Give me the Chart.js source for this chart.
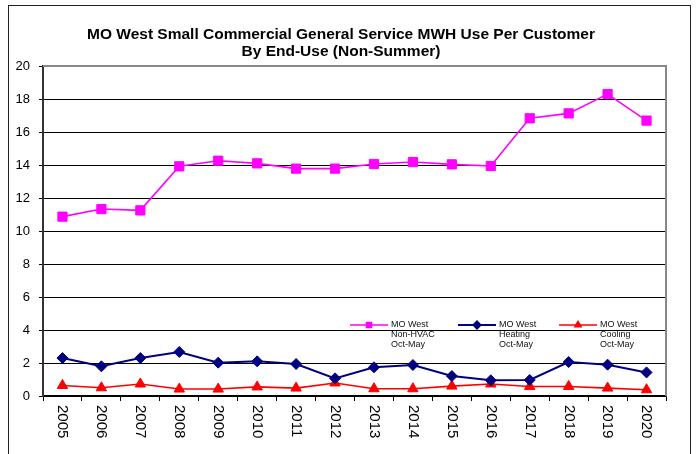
<!DOCTYPE html>
<html>
<head>
<meta charset="utf-8">
<script src="https://cdn.jsdelivr.net/npm/chart.js@4.4.1/dist/chart.umd.min.js"></script>
<style>
  html, body { margin: 0; padding: 0; background: #fff; }
</style>
</head>
<body>
<canvas id="chartId" width="698" height="454"></canvas>
<script>
// values
const years = ["2005", "2006", "2007", "2008", "2009", "2010", "2011", "2012",
               "2013", "2014", "2015", "2016", "2017", "2018", "2019", "2020"];
const nonHvac = [10.87, 11.33, 11.25, 13.92, 14.26, 14.1, 13.78, 13.78,
                 14.06, 14.18, 14.04, 13.94, 16.83, 17.13, 18.3, 16.69];
const heating = [2.3, 1.8, 2.3, 2.67, 2.02, 2.1, 1.94, 1.07,
                 1.74, 1.88, 1.21, 0.95, 0.97, 2.06, 1.9, 1.43];
const cooling = [0.64, 0.5, 0.73, 0.42, 0.42, 0.55, 0.48, 0.79,
                 0.44, 0.44, 0.6, 0.73, 0.58, 0.58, 0.48, 0.38];
const seriesNames = [
    ["MO West", "Non-HVAC", "Oct-May"],
    ["MO West", "Heating", "Oct-May"],
    ["MO West", "Cooling", "Oct-May"]
];
const yMin = 0, yMax = 20, yStep = 2;
const titleLines = ["MO West Small Commercial General Service MWH Use Per Customer",
                    "By End-Use (Non-Summer)"];

const fontFamily = "'Liberation Sans', Arial, Helvetica, sans-serif";

// outer frame, white background, grey plot border
const framePlugin = {
    id: "frame",
    beforeDraw(chart) {
        const ctx = chart.ctx;
        ctx.save();
        ctx.fillStyle = "#fff";
        ctx.fillRect(0, 0, chart.width, chart.height);
        ctx.strokeStyle = "#222";
        ctx.lineWidth = 1;
        ctx.strokeRect(8.5, 5.5, 682, 470);
        ctx.restore();
    },
    beforeDatasetsDraw(chart) {
        const ctx = chart.ctx;
        const a = chart.chartArea;
        ctx.save();
        ctx.strokeStyle = "#888";
        ctx.lineWidth = 2;
        ctx.beginPath();
        ctx.moveTo(a.left, a.top);
        ctx.lineTo(a.right, a.top);
        ctx.lineTo(a.right, a.bottom);
        ctx.stroke();
        ctx.restore();
    }
};

// x labels turned to read top to bottom
const xLabelPlugin = {
    id: "xLabels",
    afterDraw(chart) {
        const ctx = chart.ctx;
        const xs = chart.scales.x;
        ctx.save();
        ctx.fillStyle = "#000";
        ctx.font = "15px " + fontFamily;
        ctx.textAlign = "left";
        ctx.textBaseline = "middle";
        years.forEach((y, i) => {
            ctx.save();
            ctx.translate(xs.getPixelForTick(i), xs.top + 9);
            ctx.rotate(Math.PI / 2);
            ctx.fillText(y, 0, 0);
            ctx.restore();
        });
        ctx.restore();
    }
};

// legend inside the plot, three lines of text per series
const legendPlugin = {
    id: "innerLegend",
    afterDatasetsDraw(chart) {
        const ctx = chart.ctx;
        const starts = [350, 458, 559];
        const top = 325;
        ctx.save();
        chart.data.datasets.forEach((ds, i) => {
            const x0 = starts[i];
            ctx.strokeStyle = ds.borderColor;
            ctx.lineWidth = ds.borderWidth;
            ctx.beginPath();
            ctx.moveTo(x0, top);
            ctx.lineTo(x0 + 38, top);
            ctx.stroke();
            ctx.fillStyle = ds.pointBackgroundColor;
            ctx.strokeStyle = ds.pointBorderColor;
            Chart.helpers.drawPoint(ctx, {
                pointStyle: ds.pointStyle, radius: 3.5, rotation: 0, borderWidth: 1
            }, x0 + 19, top);
            ctx.fillStyle = "#111";
            ctx.font = "9px " + fontFamily;
            ctx.textAlign = "left";
            ctx.textBaseline = "middle";
            seriesNames[i].forEach((t, j) => {
                ctx.fillText(t, x0 + 41, top + j * 10);
            });
        });
        ctx.restore();
    }
};

const chrt = document.getElementById("chartId").getContext("2d");
const chartId = new Chart(chrt, {
    type: "line",
    data: {
        labels: years,
        datasets: [{
            label: seriesNames[0].join(" "),
            data: nonHvac,
            borderColor: "#ff00ff",
            backgroundColor: "#ff00ff",
            pointBackgroundColor: "#ff00ff",
            pointBorderColor: "#ff00ff",
            borderWidth: 1.6,
            pointStyle: "rect",
            pointRadius: 6.5,
            pointBorderWidth: 1
        }, {
            label: seriesNames[1].join(" "),
            data: heating,
            borderColor: "#000080",
            backgroundColor: "#000080",
            pointBackgroundColor: "#000080",
            pointBorderColor: "#000080",
            borderWidth: 2,
            pointStyle: "rectRot",
            pointRadius: 5.5,
            pointBorderWidth: 1
        }, {
            label: seriesNames[2].join(" "),
            data: cooling,
            borderColor: "#ff0000",
            backgroundColor: "#ff0000",
            pointBackgroundColor: "#ff0000",
            pointBorderColor: "#ff0000",
            borderWidth: 1.6,
            pointStyle: "triangle",
            pointRadius: 6,
            pointBorderWidth: 1
        }]
    },
    options: {
        responsive: false,
        animation: false,
        layout: { padding: { left: 16, right: 32, top: 0, bottom: 0 } },
        plugins: {
            legend: { display: false },
            tooltip: { enabled: false },
            title: {
                display: true,
                text: titleLines,
                color: "#000",
                font: { family: fontFamily, size: 15.5, weight: "bold", lineHeight: 1.1 },
                padding: { top: 26.5, bottom: 5.4 }
            }
        },
        scales: {
            x: {
                offset: true,
                grid: { drawOnChartArea: false, offset: true, tickLength: 5, color: "#000", lineWidth: 1 },
                border: { color: "#000", width: 1.5 },
                ticks: { callback: () => "", autoSkip: false, maxRotation: 0 },
                afterFit(scale) { scale.height = 58; }
            },
            y: {
                min: yMin,
                max: yMax,
                ticks: {
                    stepSize: yStep,
                    color: "#000",
                    padding: 9,
                    font: { family: fontFamily, size: 13 }
                },
                grid: { color: "#000", lineWidth: 1, tickLength: 4 },
                border: { color: "#333", width: 2 },
                afterFit(scale) { scale.width = 27; }
            }
        }
    },
    plugins: [framePlugin, xLabelPlugin, legendPlugin]
});
</script>
</body>
</html>
